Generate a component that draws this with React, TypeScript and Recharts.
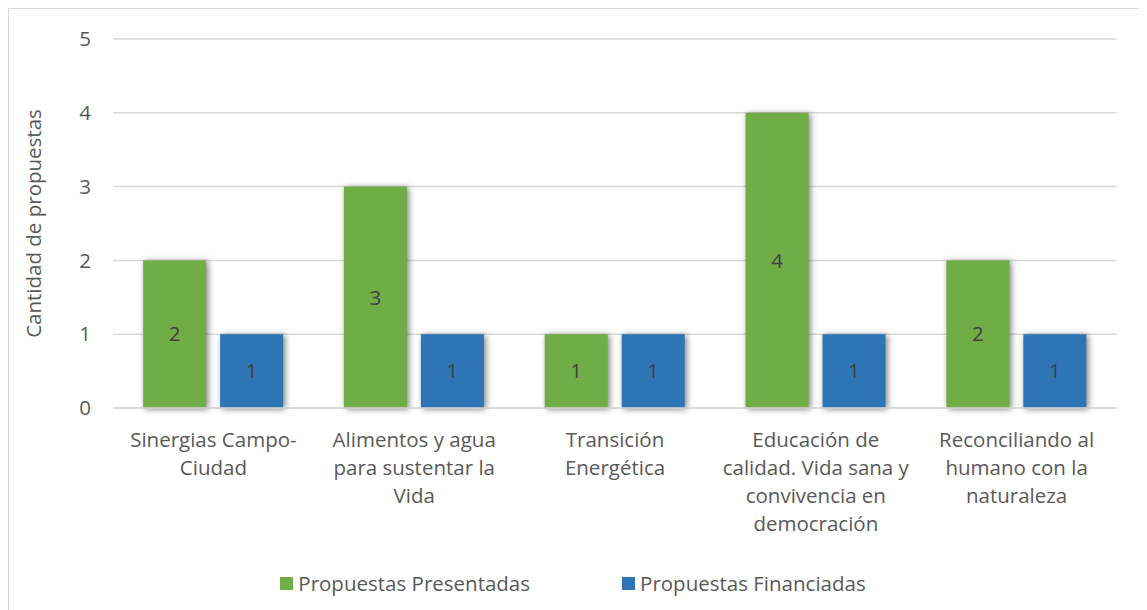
import React from "react";
import { BarChart, Bar, XAxis, YAxis, CartesianGrid, Legend, LabelList } from "recharts";

const categories = [
  "Sinergias Campo-Ciudad",
  "Alimentos y agua para sustentar la Vida",
  "Transición Energética",
  "Educación de calidad. Vida sana y convivencia en democración",
  "Reconciliando al humano con la naturaleza",
];
const tickLabels = [
  ["Sinergias Campo-", "Ciudad"],
  ["Alimentos y agua", "para sustentar la", "Vida"],
  ["Transición", "Energética"],
  ["Educación de", "calidad. Vida sana y", "convivencia en", "democración"],
  ["Reconciliando al", "humano con la", "naturaleza"],
];
const presentadas = [2, 3, 1, 4, 2];
const financiadas = [1, 1, 1, 1, 1];
const yTicks = [0, 1, 2, 3, 4, 5];

const FONT = "'Open Sans', Lato, sans-serif";
const FS = 20.5;
const TEXT = "#595959";
const GREEN = "#70AD47";
const BLUE = "#2E75B6";

const data = categories.map((c, i) => ({
  name: c,
  idx: i,
  presentadas: presentadas[i],
  financiadas: financiadas[i],
}));

const XTick = (props: any) => {
  const { x, y, payload } = props;
  const lines = tickLabels[payload.index] || [String(payload.value)];
  return (
    <g transform={`translate(${x},${y})`}>
      {lines.map((l: string, i: number) => (
        <text key={i} x={0} y={24 + i * 28} dy="0.35em" textAnchor="middle" fill={TEXT} fontSize={FS} fontFamily={FONT}>
          {l}
        </text>
      ))}
    </g>
  );
};

const ShadowBar = (props: any) => {
  const { x, y, width, height, fill } = props;
  if (!height || height <= 0) return null;
  return (
    <rect x={x} y={y} width={width} height={height} fill={fill}
      style={{ filter: "drop-shadow(2px 1px 3px rgba(0,0,0,0.5))" }} />
  );
};

const LegendContent = () => (
  <div style={{ display: "flex", justifyContent: "center", gap: 92, height: 40, paddingTop: 0, boxSizing: "border-box", fontFamily: FONT, fontSize: FS, color: TEXT, transform: "translate(10px,-7px)" }}>
    {[
      ["Propuestas Presentadas", GREEN],
      ["Propuestas Financiadas", BLUE],
    ].map(([label, color]) => (
      <div key={label} style={{ display: "flex", alignItems: "center", lineHeight: "22px" }}>
        <span style={{ display: "inline-block", width: 13, height: 13, background: color, marginRight: 5 }} />
        <span>{label}</span>
      </div>
    ))}
  </div>
);

export default function App() {
  return (
    <div style={{ width: 1139, height: 602, borderTop: "1px solid #D9D9D9", borderLeft: "1px solid #D9D9D9", background: "#fff", overflow: "hidden" }}>
      <BarChart width={1138} height={601} data={data} margin={{ top: 30, right: 30, left: 0, bottom: 0 }}
        barCategoryGap="15%" barGap={14}>
        <CartesianGrid vertical={false} stroke="#D9D9D9" strokeWidth={1.5} />
        <XAxis dataKey="name" tick={<XTick />} tickLine={false} axisLine={{ stroke: "#D9D9D9", strokeWidth: 1.5 }} height={162} interval={0} />
        <YAxis domain={[0, 5]} ticks={yTicks} width={104} tickLine={false} axisLine={false} tickMargin={16}
          tick={{ fill: TEXT, fontSize: FS, fontFamily: FONT }}
          label={{
            content: (p: any) => {
              const vb = p.viewBox || {};
              const cy = vb.y + vb.height / 2;
              return (
                <text x={24} y={cy} transform={`rotate(-90, 24, ${cy})`} textAnchor="middle" dominantBaseline="central" fill={TEXT} fontSize={FS} fontFamily={FONT}>
                  Cantidad de propuestas
                </text>
              );
            },
          }} />
        <Legend verticalAlign="bottom" height={40} content={<LegendContent />} />
        <Bar dataKey="presentadas" name="Propuestas Presentadas" fill={GREEN} isAnimationActive={false} shape={<ShadowBar />}>
          <LabelList dataKey="presentadas" position="center" fill="#404040" fontSize={FS} fontFamily={FONT} />
        </Bar>
        <Bar dataKey="financiadas" name="Propuestas Financiadas" fill={BLUE} isAnimationActive={false} shape={<ShadowBar />}>
          <LabelList dataKey="financiadas" position="center" fill="#404040" fontSize={FS} fontFamily={FONT} />
        </Bar>
      </BarChart>
    </div>
  );
}
